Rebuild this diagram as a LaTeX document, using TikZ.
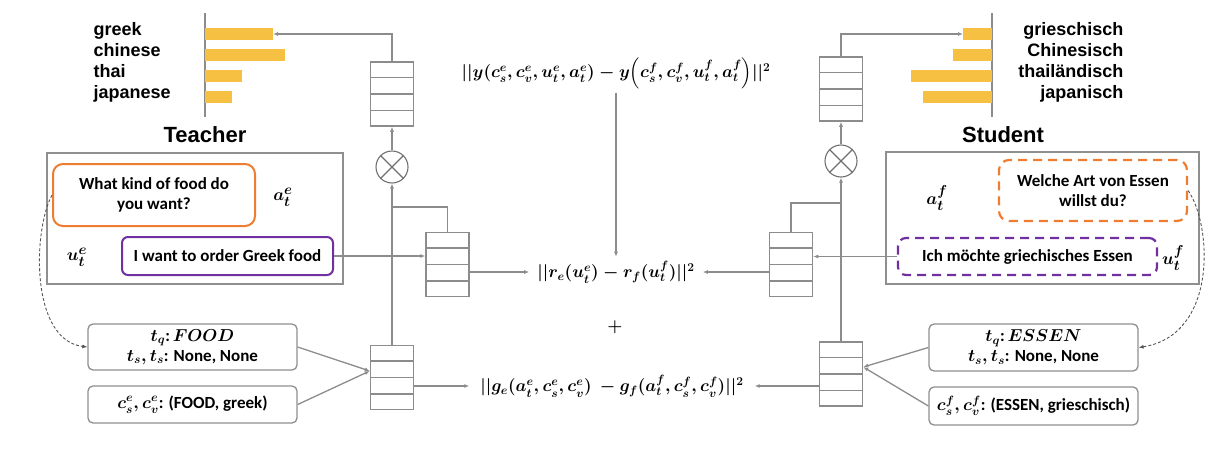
\documentclass[tikz,border=0pt]{standalone}
\usepackage{amsmath}
\usepackage{fontspec}
\setmainfont{Carlito}
\newfontfamily\labelfont{Liberation Sans}
\usetikzlibrary{arrows.meta,positioning,calc}
\definecolor{LineGray}{HTML}{8C8C8C}
\definecolor{BoxGray}{HTML}{8F8F8F}
\definecolor{AskOrange}{HTML}{ED7D31}
\definecolor{SayPurple}{HTML}{7030A0}
\definecolor{BarGold}{HTML}{F6C143}
\definecolor{CurveGray}{HTML}{555555}
\tikzset{
  stackbox/.style={draw=LineGray,line width=1.5pt,minimum width=43pt,minimum height=64pt,inner sep=0pt},
  mulnode/.style={draw=LineGray!80!black,circle,line width=1.1pt,minimum size=32pt,inner sep=0pt},
  conn/.style={draw=LineGray,line width=1.3pt},
  feed/.style={conn,-{Latex[length=5pt,width=4pt]}},
  hint/.style={CurveGray,line width=0.9pt,dash pattern=on 3pt off 2pt,-{Latex[length=5pt,width=4pt]}},
  outerbox/.style={draw=BoxGray,line width=2.5pt},
  slotbox/.style={draw=BoxGray,line width=1.3pt,rounded corners=5pt,align=center},
  boxtext/.style={font=\bfseries\boldmath\fontsize{17}{20}\selectfont},
  langlabel/.style={font=\labelfont\bfseries\fontsize{18}{20}\selectfont},
  rolelabel/.style={font=\labelfont\bfseries\fontsize{22}{26}\selectfont,anchor=base},
  mathlabel/.style={font=\boldmath\fontsize{19}{22}\selectfont},
  lossnode/.style={font=\boldmath\fontsize{17.5}{20}\selectfont,inner ysep=4pt}
}

\begin{document}
\begin{tikzpicture}[x=1pt,y=-1pt]
  \useasboundingbox (0,0) rectangle (1222,450);

  \draw[outerbox] (47,153) rectangle (343,284);
  \draw[outerbox] (886,152) rectangle (1199,284);

  \draw[LineGray,line width=1.3pt] (205,13) -- (205,117);
  \draw[LineGray,line width=1.3pt] (992,13) -- (992,117);
  \foreach \y/\w/\t in {35/273/greek,56/285/chinese,77/242/thai,98/232/japanese}{
    \fill[BarGold] (205,\y-7) rectangle (\w,\y+5);
    \node[langlabel,anchor=base west] at (90,\y) {\t};
  }
  \foreach \y/\w/\t in {35/963/grieschisch,56/953/Chinesisch,77/911/thailändisch,98/923/japanisch}{
    \fill[BarGold] (992,\y-7) rectangle (\w,\y+5);
    \node[langlabel,anchor=base east] at (1127,\y) {\t};
  }
  \node[rolelabel] (tRole) at (205,142) {Teacher};
  \node[rolelabel] (sRole) at (1003,142) {Student};

  \node[stackbox] (tTop) at (392,94) {};
  \node[stackbox] (tMid) at (447.5,264.5) {};
  \node[stackbox] (tBot) at (392,377.5) {};
  \node[stackbox] (sTop) at (841,89) {};
  \node[stackbox] (sMid) at (791,264.5) {};
  \node[stackbox] (sBot) at (841,374) {};
  \foreach \n in {tTop,tMid,tBot,sTop,sMid,sBot}
    \foreach \k in {1,2,3}
      \draw[LineGray,line width=1.5pt] ($(\n.north west)!\k/4!(\n.south west)$) -- ($(\n.north east)!\k/4!(\n.south east)$);

  \node[mulnode] (tMul) at (392,167) {};
  \node[mulnode] (sMul) at (841,161) {};
  \foreach \n in {tMul,sMul}{
    \draw[LineGray!80!black,line width=1.1pt] (\n.north west) -- (\n.south east);
    \draw[LineGray!80!black,line width=1.1pt] (\n.north east) -- (\n.south west);
  }

  \node[boxtext,draw=AskOrange,line width=2pt,rounded corners=10pt,minimum width=202pt,minimum height=62pt,align=center] (tAct) at (154,195) {What kind of food do\\you want?};
  \node[boxtext,draw=SayPurple,line width=2pt,rounded corners=6pt,minimum width=211pt,minimum height=38pt] (tUtt) at (227.5,256) {I want to order Greek food};
  \node[mathlabel] (tA) at (283,197) {$a_t^e$};
  \node[mathlabel] (tU) at (77,257) {$u_t^e$};

  \node[boxtext,draw=AskOrange,line width=2.2pt,dash pattern=on 9pt off 6pt,rounded corners=10pt,minimum width=188pt,minimum height=61pt,align=center] (sAct) at (1093,190.5) {Welche Art von Essen\\willst du?};
  \node[boxtext,draw=SayPurple,line width=2.2pt,dash pattern=on 9pt off 6pt,rounded corners=8pt,minimum width=259pt,minimum height=37pt] (sUtt) at (1027.5,256.5) {Ich möchte griechisches Essen};
  \node[mathlabel] (sA) at (937,198) {$a_t^f$};
  \node[mathlabel] (sU) at (1173,258) {$u_t^f$};

  \node[slotbox,boxtext,minimum width=209pt,minimum height=46pt,inner sep=1pt] (tState) at (192.5,347) {$t_q$:\,$FOOD$\\$t_s,t_s$: None, None};
  \node[slotbox,boxtext,minimum width=209pt,minimum height=37pt] (tSlot) at (192.5,404.5) {$c_s^e,c_v^e$: (FOOD, greek)};
  \node[slotbox,boxtext,minimum width=209pt,minimum height=47pt,inner sep=1pt] (sState) at (1033.5,347.5) {$t_q$:\,$ESSEN$\\$t_s,t_s$: None, None};
  \node[slotbox,boxtext,minimum width=209pt,minimum height=38pt] (sSlot) at (1033.5,406) {$c_s^f,c_v^f$: (ESSEN, grieschisch)};

  \node[lossnode] (lossY) at (616,73) {$||y(c_s^e,c_v^e,u_t^e,a_t^e)-y\Bigl(c_s^f,c_v^f,u_t^f,a_t^f\Bigr)||^2$};
  \node[lossnode,inner xsep=8pt] (lossR) at (616,272) {$||r_e(u_t^e)-r_f(u_t^f)||^2$};
  \node[lossnode] (plus) at (615,327) {$+$};
  \node[lossnode,inner xsep=11pt] (lossG) at (612,386) {$||g_e(a_t^e,c_s^e,c_v^e)\ -g_f(a_t^f,c_s^f,c_v^f)||^2$};

  \coordinate (tBar) at (273,34);
  \coordinate (sBar) at (963,34);
  \coordinate (tJoin) at (392,207);
  \coordinate (sJoin) at (841,203);
  \coordinate (tIn) at ($(tBot.west)+(0,-6.5)$);
  \coordinate (sIn) at ($(sBot.east)+(0,-7)$);

  \draw[feed] (tTop.north) |- (tBar);
  \draw[feed] (tMul.north) -- (tTop.south);
  \draw[feed] (tBot.north) -- (tMul.south);
  \draw[conn] (tMid.north) |- (tJoin);
  \draw[feed] (tUtt.east) -- (tUtt.east -| tMid.west);
  \draw[feed] (lossR.west -| tMid.east) -- (lossR.west);
  \draw[feed] (lossG.west -| tBot.east) -- (lossG.west);
  \draw[feed] (tState.east) -- (tIn);
  \draw[feed] (tSlot.east) -- (tIn);

  \draw[feed] (sTop.north) |- (sBar);
  \draw[feed] (sMul.north) -- (sTop.south);
  \draw[feed] (sBot.north) -- (sMul.south);
  \draw[conn] (sMid.north) |- (sJoin);
  \draw[feed] (sUtt.west) -- (sUtt.west -| sMid.east);
  \draw[feed] (lossR.east -| sMid.west) -- (lossR.east);
  \draw[feed] (lossG.east -| sBot.west) -- (lossG.east);
  \draw[feed] (sState.west) -- (sIn);
  \draw[feed] (sSlot.west) -- (sIn);

  \draw[feed] (lossY.south) -- (lossY.south |- lossR.north);

  \draw[hint] (tAct.west) .. controls (33,230) and (30,340) .. (tState.west);
  \draw[hint] (sAct.east) .. controls (1212,225) and (1218,335) .. (sState.east);
\end{tikzpicture}
\end{document}
